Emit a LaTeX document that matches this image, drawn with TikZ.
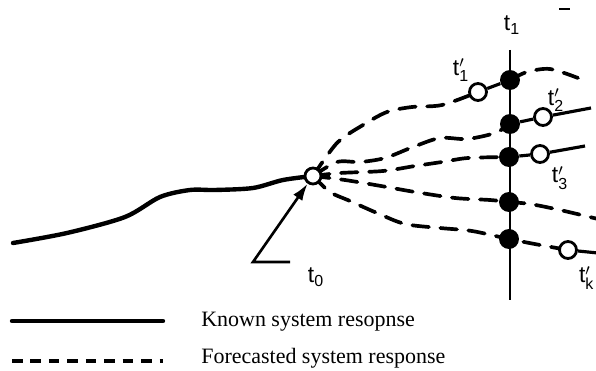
\documentclass[tikz,border=0pt]{standalone}
\usepackage{fontspec}
\setmainfont{Liberation Serif}
\setsansfont{Liberation Sans}
\usetikzlibrary{arrows.meta,backgrounds}

\begin{document}
\begin{tikzpicture}[x=0.02cm, y=-0.02cm,
    known/.style={line width=2.5pt, line cap=round},
    seg/.style={line width=1.8pt},
    fcast/.style={line width=2.1pt, dash pattern=on 9.5pt off 6.5pt, line cap=round},
    fixed/.style={circle, fill=black, minimum size=0.4cm, inner sep=0pt},
    fpoint/.style={circle, draw, line width=1.6pt, fill=white, minimum size=0.34cm, inner sep=0pt},
    tlabel/.style={font=\fontsize{13}{15}\selectfont, inner sep=1pt},
    legend/.style={font=\fontsize{12.5}{15}\selectfont, anchor=west, inner sep=0pt}
  ]
  \useasboundingbox (0,0) rectangle (596,371);

  % Forecast origin
  \node[fpoint, minimum size=0.32cm] (t0) at (313,176) {};

  % Points on the t1 axis
  \node[fixed] (d1) at (510,80) {};
  \node[fixed] (d2) at (510,124) {};
  \node[fixed] (d3) at (509,157) {};
  \node[fixed] (d4) at (509,202) {};
  \node[fixed] (d5) at (509,239) {};
  \coordinate (top) at (510,50);
  \coordinate (bot) at (510,300);

  % Forecast points t'
  \node[fpoint] (p1) at (478,92) {};
  \node[fpoint] (p2) at (543,117) {};
  \node[fpoint] (p3) at (540,154) {};
  \node[fpoint] (pk) at (568,250) {};
  \coordinate (e2) at (591,108);
  \coordinate (e3) at (585,146);
  \coordinate (ek) at (598,253);

  % Labels
  \node[tlabel] (l1) at (512,25) {$\mathsf{t}_{\mathsf{1}}$};
  \node[tlabel] (lp1) at (461,70) {$\mathsf{t}'_{\mathsf{1}}$};
  \node[tlabel] (lp2) at (556,100) {$\mathsf{t}'_{\mathsf{2}}$};
  \node[tlabel] (lp3) at (560,178) {$\mathsf{t}'_{\mathsf{3}}$};
  \node[tlabel, anchor=west] (lpk) at (577,278) {$\mathsf{t}'_{\mathsf{k}}$};
  \node[tlabel] (l0) at (316,277) {$\mathsf{t}_{\mathsf{0}}$};

  \begin{pgfonlayer}{background}
    % time axis
    \draw[line width=1.4pt] (top) -- (bot);

    % known response
    \draw[known] plot[smooth] coordinates {(13,243) (67,233) (125,217) (160,197)
      (190,190) (215,190) (253,188) (283,180) (t0)};

    % forecasts
    \draw[fcast] plot[smooth] coordinates {(t0) (337,143) (363,125) (387,112)
      (412,107) (442,105) (p1)};
    \draw[seg] (p1) -- (d1);
    \draw[fcast] plot[smooth] coordinates {(d1) (527,72) (550,69) (578,78)};

    \draw[fcast] plot[smooth] coordinates {(t0) (337,162) (360,162) (385,158)
      (413,147) (440,138) (467,139) (495,133) (d2)};
    \draw[seg] (d2) -- (p2) -- (e2);

    \draw[fcast] plot[smooth] coordinates {(t0) (340,173) (383,171) (415,166)
      (442,162) (468,158) (d3)};
    \draw[seg] (d3) -- (p3) -- (e3);

    \draw[fcast] plot[smooth] coordinates {(t0) (345,180) (381,186) (415,192)
      (455,198) (490,200) (d4) (530,204) (560,210) (598,219)};

    \draw[fcast] plot[smooth] coordinates {(t0) (330,192) (350,201) (377,213)
      (405,224) (440,228) (472,231) (d5) (540,245) (pk)};
    \draw[seg] (pk) -- (ek);
  \end{pgfonlayer}

  % pointer to t0
  \coordinate (tail) at (290,262);
  \coordinate (elbow) at (253,262);
  \draw[line width=1.5pt, -{Latex[length=0.34cm, width=0.22cm]}] (tail) -- (elbow) -- (t0);

  % stray mark
  \draw[line width=1.5pt] (559,9) -- (570,9);

  % Legend
  \coordinate (ka) at (12,321);
  \coordinate (kb) at (163,321);
  \coordinate (fa) at (12,361);
  \coordinate (fb) at (163,361);
  \draw[known] (ka) -- (kb);
  \draw[line width=2pt, dash pattern=on 6pt off 4.5pt] (fa) -- (fb);
  \node[legend] (lk) at (201,322) {Known system resopnse};
  \node[legend] (lf) at (201,358) {Forecasted system response};
\end{tikzpicture}
\end{document}
